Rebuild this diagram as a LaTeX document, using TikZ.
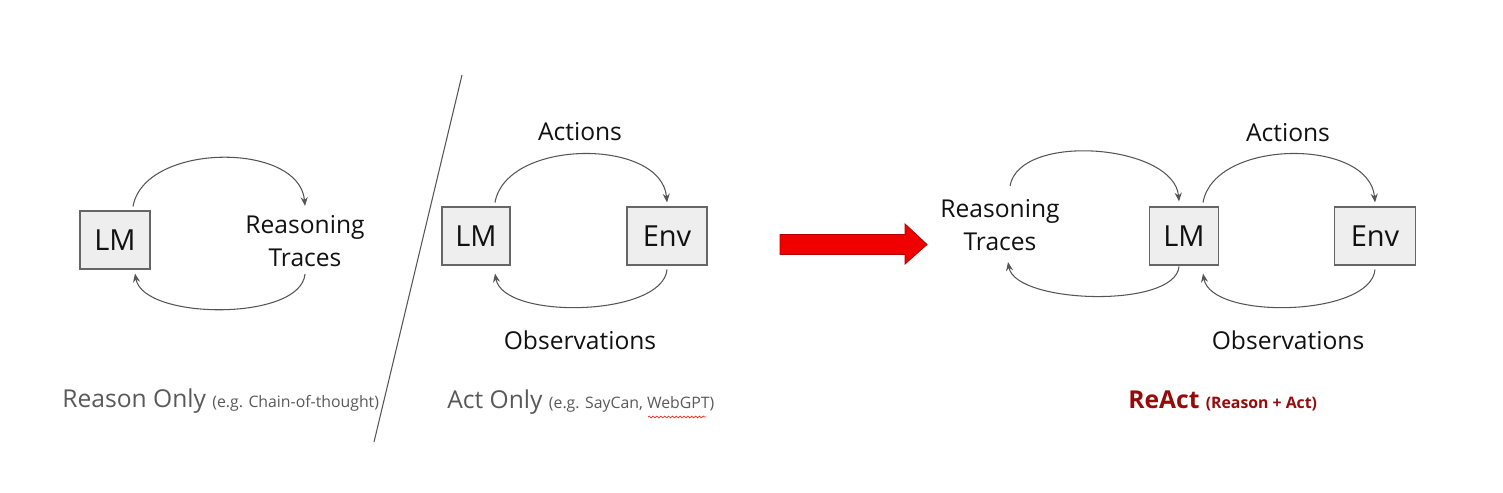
\documentclass[tikz,border=0pt]{standalone}
\usepackage{fontspec}
\setmainfont{Open Sans}
\usetikzlibrary{arrows.meta,positioning,calc,decorations.pathmorphing}
\definecolor{ink}{HTML}{111111}
\definecolor{wire}{HTML}{555555}
\definecolor{boxfill}{HTML}{EEEEEE}
\definecolor{capgray}{HTML}{595959}
\definecolor{reactred}{HTML}{960A0A}
\definecolor{bigred}{HTML}{F00000}

\begin{document}
\begin{tikzpicture}[>={Stealth[length=5pt,width=4pt]},
 box/.style={draw=wire!90,fill=boxfill,line width=0.6pt,minimum height=1.16cm,
  text=ink,font=\fontsize{16.5}{18}\selectfont},
 lbl/.style={text=ink,align=center,font=\fontsize{14}{19}\selectfont},
 flow/.style={draw=wire,line width=0.6pt,->},
 captxt/.style={anchor=base west,inner sep=0pt,font=\fontsize{14}{16}\selectfont}]
 \useasboundingbox (0,0) rectangle (30.06,9.84);
 % reason only
 \node[box,minimum width=1.4cm] (lmA) at (2.30,5.04) {LM};
 \node[lbl] (rtA) at (6.10,5.02) {Reasoning\\Traces};
 \draw[flow] ([xshift=0.36cm,yshift=0.08cm]lmA.north)
  .. controls +(80:1.3) and +(95:1.3) .. ([yshift=0.06cm]rtA.north);
 \draw[flow] ([yshift=-0.02cm]rtA.south)
  .. controls +(-95:0.95) and +(-80:0.95) .. ([xshift=0.4cm,yshift=-0.08cm]lmA.south);
 \node[captxt,text=capgray] (capA) at (1.24,1.70)
  {Reason Only {\fontsize{9}{11}\selectfont (e.g. Chain-of-thought)}};
 % divider
 \coordinate (divtop) at (9.24,8.34);
 \coordinate (divbot) at (7.48,1.00);
 \draw[wire,line width=0.6pt] (divtop) -- (divbot);
 % act only
 \node[box,minimum width=1.36cm] (lmB) at (9.52,5.12) {LM};
 \node[box,minimum width=1.6cm] (envB) at (13.34,5.12) {Env};
 \node[lbl] (actB) at (11.60,7.20) {Actions};
 \node[lbl] (obsB) at (11.60,3.04) {Observations};
 \draw[flow] ([xshift=0.38cm,yshift=0.08cm]lmB.north)
  .. controls +(80:1.3) and +(95:1.3) .. ([yshift=0.08cm]envB.north);
 \draw[flow] ([yshift=-0.08cm]envB.south)
  .. controls +(-95:0.95) and +(-80:0.95) .. ([xshift=0.38cm,yshift=-0.16cm]lmB.south);
 \node[captxt,text=capgray] (capB) at (8.94,1.68)
  {Act Only {\fontsize{9}{11}\selectfont (e.g. SayCan, WebGPT)}};
 \draw[red!85,line width=0.4pt,decorate,
  decoration={snake,amplitude=0.5pt,segment length=2.2pt}] (12.96,1.50) -- (14.12,1.50);
 % big arrow
 \draw[fill=bigred,draw=bigred!75!black,line width=0.5pt]
  (15.60,4.75) -- (18.10,4.75) -- (18.10,4.56) -- (18.54,4.95)
  -- (18.10,5.36) -- (18.10,5.15) -- (15.60,5.15) -- cycle;
 % react
 \node[lbl] (rtC) at (20.00,5.34) {Reasoning\\Traces};
 \node[box,minimum width=1.38cm] (lmC) at (23.68,5.12) {LM};
 \node[box,minimum width=1.62cm] (envC) at (27.50,5.12) {Env};
 \node[lbl] (actC) at (25.76,7.18) {Actions};
 \node[lbl] (obsC) at (25.76,3.04) {Observations};
 \draw[flow] ([xshift=0.2cm,yshift=0.14cm]rtC.north)
  .. controls +(80:1.1) and +(95:1.15) .. ([xshift=-0.1cm,yshift=0.1cm]lmC.north);
 \draw[flow] ([xshift=-0.1cm,yshift=-0.02cm]lmC.south)
  .. controls +(-95:0.85) and +(-80:0.85) .. ([xshift=0.16cm,yshift=-0.1cm]rtC.south);
 \draw[flow] ([xshift=0.38cm,yshift=0.08cm]lmC.north)
  .. controls +(80:1.3) and +(95:1.3) .. ([yshift=0.08cm]envC.north);
 \draw[flow] ([yshift=-0.08cm]envC.south)
  .. controls +(-95:0.95) and +(-80:0.95) .. ([xshift=0.38cm,yshift=-0.16cm]lmC.south);
 \node[captxt,text=reactred,font=\fontsize{14}{16}\selectfont\bfseries] (capC) at (22.56,1.68)
  {ReAct {\fontsize{9}{11}\selectfont (Reason + Act)}};
\end{tikzpicture}
\end{document}
